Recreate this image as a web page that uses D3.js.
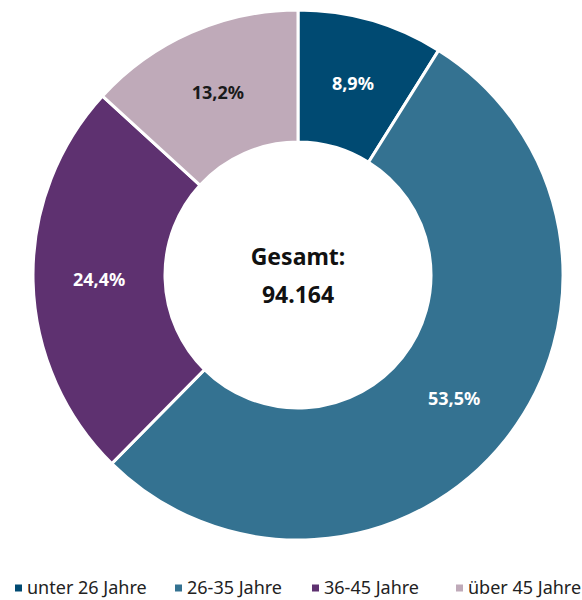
<!DOCTYPE html>
<html>
<head>
<meta charset="utf-8">
<script src="https://cdn.jsdelivr.net/npm/d3@7"></script>
<style>
  body { margin: 0; background: #fff; }
  svg { display: block; font-family: "Noto Sans", "Open Sans", sans-serif; }
</style>
</head>
<body>
<svg id="chart" width="582" height="600"></svg>
<script>
const categories = ['unter 26 Jahre', '26-35 Jahre', '36-45 Jahre', 'über 45 Jahre'];
const shares = [8.9, 53.5, 24.4, 13.2];
const colors = ['#004a72', '#347291', '#5e3170', '#bfaab9'];
const totalLabel = ['Gesamt:', '94.164'];

const svg = d3.select('#chart');
const cx = 298, cy = 275;
const outer = 265, inner = 133;

const data = categories.map((c, i) => ({ name: c, value: shares[i], color: colors[i] }));

const pie = d3.pie().value(d => d.value).sort(null);
const arc = d3.arc().innerRadius(inner).outerRadius(outer);
const arcs = pie(data);

const g = svg.append('g').attr('transform', `translate(${cx},${cy})`);

g.selectAll('path')
  .data(arcs)
  .join('path')
  .attr('d', arc)
  .attr('fill', d => d.data.color)
  .attr('stroke', '#fff')
  .attr('stroke-width', 3);

g.selectAll('text.lbl')
  .data(arcs)
  .join('text')
  .attr('class', 'lbl')
  .attr('transform', d => `translate(${arc.centroid(d)})`)
  .attr('text-anchor', 'middle')
  .attr('dy', '0.35em')
  .attr('fill', d => d.index === 3 ? '#1a1a1a' : '#fff')
  .style('font-size', '18px')
  .style('font-weight', 'bold')
  .text(d => d.data.value.toFixed(1).replace('.', ',') + '%');

g.selectAll('text.total')
  .data(totalLabel)
  .join('text')
  .attr('class', 'total')
  .attr('text-anchor', 'middle')
  .attr('y', (d, i) => -18 + i * 38)
  .attr('dy', '0.35em')
  .attr('fill', '#111')
  .style('font-size', '23px')
  .style('font-weight', 'bold')
  .text(d => d);

// legend
const legendX = [15, 175, 312, 456];
const lg = svg.append('g').attr('transform', 'translate(0,588)');
const item = lg.selectAll('g')
  .data(data)
  .join('g')
  .attr('transform', (d, i) => `translate(${legendX[i]},0)`);
item.append('rect')
  .attr('x', 0).attr('y', -3.5)
  .attr('width', 7).attr('height', 7)
  .attr('fill', d => d.color);
item.append('text')
  .attr('x', 12)
  .attr('dy', '0.35em')
  .attr('fill', '#222')
  .style('font-size', '18px')
  .text(d => d.name);
</script>
</body>
</html>
